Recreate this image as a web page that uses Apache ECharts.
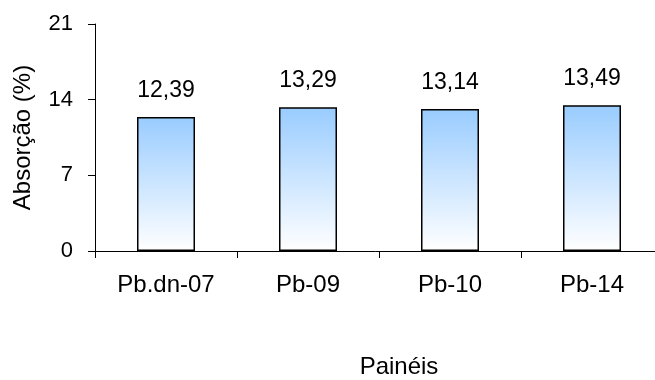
<!DOCTYPE html>
<html>
<head>
<meta charset="utf-8">
<script src="https://cdn.jsdelivr.net/npm/echarts@6/dist/echarts.min.js"></script>
<style>
html,body{margin:0;padding:0;background:#fff;}
#chart{width:655px;height:380px;}
</style>
</head>
<body>
<div id="chart"></div>
<script>
var categories = ['Pb.dn-07', 'Pb-09', 'Pb-10', 'Pb-14'];
var absorcao = [12.39, 13.29, 13.14, 13.49];
var yTicks = [0, 7, 14, 21];

var FONT = '"Liberation Sans", Arial, Helvetica, sans-serif';
var chart = echarts.init(document.getElementById('chart'), null, {renderer: 'canvas'});
chart.setOption({
  animation: false,
  backgroundColor: '#ffffff',
  grid: {left: 95, right: -8, top: 24, bottom: 129, containLabel: false, outerBoundsMode: 'none'},
  xAxis: {
    type: 'category',
    data: categories,
    boundaryGap: true,
    name: 'Painéis',
    nameLocation: 'middle',
    nameGap: 104,
    nameTextStyle: {color: '#000', fontSize: 24, fontFamily: FONT, padding: [0, 0, 0, 40]},
    axisLine: {lineStyle: {color: '#000', width: 1}},
    axisTick: {show: true, alignWithLabel: false, length: 7, inside: false, lineStyle: {color: '#000'}},
    axisLabel: {color: '#000', fontSize: 24, fontFamily: FONT, margin: 22},
    splitLine: {show: false}
  },
  yAxis: {
    type: 'value',
    min: yTicks[0],
    max: yTicks[yTicks.length - 1],
    interval: yTicks[1] - yTicks[0],
    name: 'Absorção (%)',
    nameLocation: 'middle',
    nameGap: 60,
    nameTextStyle: {color: '#000', fontSize: 24, fontFamily: FONT},
    axisLine: {show: true, lineStyle: {color: '#000', width: 1}},
    axisTick: {show: true, length: 7, lineStyle: {color: '#000'}},
    axisLabel: {color: '#000', fontSize: 22, fontFamily: FONT, margin: 22},
    splitLine: {show: false}
  },
  series: [{
    type: 'bar',
    data: absorcao,
    barWidth: 58,
    itemStyle: {
      color: new echarts.graphic.LinearGradient(0, 0, 0, 1, [
        {offset: 0, color: '#99CCFF'},
        {offset: 1, color: '#FFFFFF'}
      ]),
      borderColor: '#000',
      borderWidth: 1.5
    },
    label: {
      show: true,
      position: 'top',
      distance: 15,
      color: '#000',
      fontSize: 23,
      fontFamily: FONT,
      formatter: function (p) { return p.value.toFixed(2).replace('.', ','); }
    }
  }]
});
</script>
</body>
</html>
